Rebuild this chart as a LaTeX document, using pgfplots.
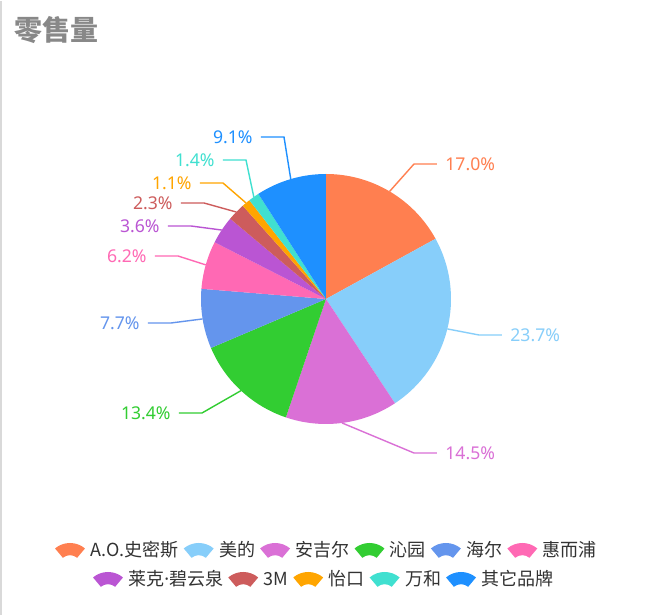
\documentclass[border=0pt]{standalone}
\usepackage{pgfplots}
\usepackage{pgfplotstable}
\pgfplotsset{compat=1.18}
\usepackage{fontspec}
\setmainfont{Noto Sans}
\newfontfamily\cjk{Noto Sans CJK SC}

\definecolor{c1}{HTML}{FF7F50}
\definecolor{c2}{HTML}{87CEFA}
\definecolor{c3}{HTML}{DA70D6}
\definecolor{c4}{HTML}{32CD32}
\definecolor{c5}{HTML}{6495ED}
\definecolor{c6}{HTML}{FF69B4}
\definecolor{c7}{HTML}{BA55D3}
\definecolor{c8}{HTML}{CD5C5C}
\definecolor{c9}{HTML}{FFA500}
\definecolor{c10}{HTML}{40E0D0}
\definecolor{c11}{HTML}{1E90FF}
\definecolor{titlegray}{HTML}{888888}
\definecolor{legtext}{HTML}{333333}

% share in percent, colour, end of the label line (px, y up), side
\pgfplotstableread{
share col ex ey dir
17.0 c1 437 451 1
23.7 c2 502 280 1
14.5 c3 437 162 1
13.4 c4 179 202 -1
7.7 c5 148 292 -1
6.2 c6 155 359 -1
3.6 c7 168 389 -1
2.3 c8 181 412 -1
1.1 c9 200 432 -1
1.4 c10 223 455 -1
9.1 c11 261 478 -1
}\piedata

% legend item: fan icon at (L), then text, then move (L) on
\newcommand\legitem[2]{%
  \fill[#1] ([shift={(7.5pt,-8.15pt)}]L) ++(50:11.65pt)
    arc[start angle=50, end angle=130, radius=11.65pt]
    -- ++(310:6.1pt)
    arc[start angle=130, end angle=50, radius=5.55pt] -- cycle;
  \node[anchor=west, inner sep=0pt, text height=0.8em, text depth=0.1em,
    font=\cjk\fontsize{9pt}{11pt}\selectfont, text=legtext]
    (T) at ([xshift=17.5pt]L) {#2};
  \coordinate (L) at ([xshift=2.3pt]T.east);
}

\begin{document}
\begin{tikzpicture}
\begin{axis}[
  x=0.5pt, y=0.5pt,
  xmin=0, xmax=650, ymin=0, ymax=614,
  hide axis, clip=false, scale only axis]

  \fill[white] (axis cs:0,0) rectangle (axis cs:650,614);
  \draw[black!15, line width=1pt] (axis cs:1,0) -- (axis cs:1,614);

  % title
  \node[anchor=west, inner sep=0pt, text=titlegray,
    font=\cjk\bfseries\fontsize{14pt}{16pt}\selectfont]
    at (axis cs:14,585) {零售量};

  % pie slices, label lines and labels
  \pgfplotsextra{
    \pgfplotstablegetrowsof{\piedata}
    \pgfmathtruncatemacro{\nrows}{\pgfplotsretval-1}
    \gdef\startang{90}
    \foreach \i in {0,...,\nrows}{
      \pgfplotstablegetelem{\i}{share}\of{\piedata}\let\share\pgfplotsretval
      \pgfplotstablegetelem{\i}{col}\of{\piedata}\let\col\pgfplotsretval
      \pgfplotstablegetelem{\i}{ex}\of{\piedata}\let\ex\pgfplotsretval
      \pgfplotstablegetelem{\i}{ey}\of{\piedata}\let\ey\pgfplotsretval
      \pgfplotstablegetelem{\i}{dir}\of{\piedata}\let\dir\pgfplotsretval
      \pgfmathsetmacro{\sweep}{\share*3.6}
      \pgfmathsetmacro{\endang}{\startang-\sweep}
      \pgfmathsetmacro{\midang}{\startang-\sweep/2}
      \pgfmathsetmacro{\elx}{\ex-23*\dir}
      \pgfmathsetmacro{\tx}{\ex+8*\dir}
      \fill[\col] (axis cs:326,316) -- ++(\startang:62.5pt)
        arc[start angle=\startang, end angle=\endang, radius=62.5pt] -- cycle;
      \draw[\col, line width=0.7pt] (axis cs:326,316) ++(\midang:62.5pt)
        -- (axis cs:\elx,\ey) -- (axis cs:\ex,\ey);
      \ifnum\dir>0
        \node[anchor=west, inner sep=0pt, text=\col, font=\fontsize{8.8pt}{10pt}\selectfont]
          at (axis cs:\tx,\ey) {\share\%};
      \else
        \node[anchor=east, inner sep=0pt, text=\col, font=\fontsize{8.8pt}{10pt}\selectfont]
          at (axis cs:\tx,\ey) {\share\%};
      \fi
      \xdef\startang{\endang}
    }
  }

  % legend, two centred rows
  \coordinate (L) at (axis cs:55,65);
  \legitem{c1}{A.O.史密斯}
  \legitem{c2}{美的}
  \legitem{c3}{安吉尔}
  \legitem{c4}{沁园}
  \legitem{c5}{海尔}
  \legitem{c6}{惠而浦}
  \coordinate (L) at (axis cs:93,36);
  \legitem{c7}{莱克{\normalfont·}碧云泉}
  \legitem{c8}{3M}
  \legitem{c9}{怡口}
  \legitem{c10}{万和}
  \legitem{c11}{其它品牌}
\end{axis}
\end{tikzpicture}
\end{document}
